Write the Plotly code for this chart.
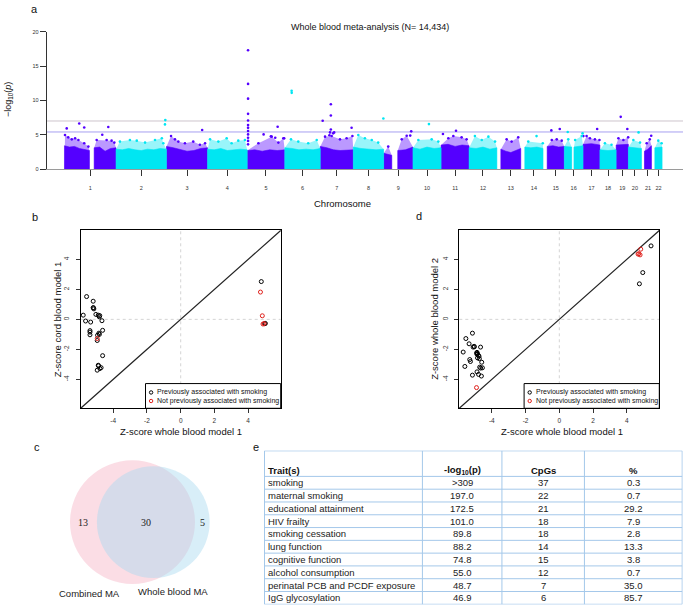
import math
import plotly.graph_objects as go

# ---------------- panel a : Manhattan plot ----------------
chrom_names = [str(i) for i in range(1, 23)]
chrom_len = [249.2, 243.2, 198.0, 191.2, 180.9, 171.1, 159.1, 146.4, 141.2, 135.5, 135.0,
             133.9, 115.2, 107.3, 102.5, 90.4, 81.2, 78.1, 59.1, 63.0, 48.1, 51.3]
# stretches of each chromosome that carry CpGs (Mb)
chrom_segments = [
    [(0.8, 121.0), (144.0, 249.0)], [(0.3, 243.0)], [(0.2, 197.8)], [(0.1, 191.0)],
    [(0.1, 180.7)], [(0.2, 170.9)], [(0.1, 159.0)], [(0.2, 146.2)],
    [(0.2, 39.0), (68.0, 141.0)], [(0.1, 135.4)], [(0.2, 134.9)], [(0.2, 133.8)],
    [(19.2, 115.0)], [(19.5, 107.2)], [(20.1, 102.4)], [(0.1, 35.5), (46.5, 90.2)],
    [(0.1, 81.1)], [(0.1, 78.0)], [(0.2, 59.0)], [(0.1, 62.9)], [(14.5, 48.0)], [(16.5, 51.2)],
]
# upper edge of the solid cloud of CpGs, read along each stretch (-log10 p)
band_top = [
    [[3.4, 3.2, 3.3, 3.0, 2.8, 2.7], [3.1, 3.2, 2.6, 3.0, 3.1]],
    [[2.9, 2.8, 3.0, 2.8, 2.7, 2.9, 2.8, 3.0, 2.9]],
    [[3.3, 3.1, 2.9, 2.6, 2.7, 3.0, 3.1]],
    [[2.9, 2.8, 3.0, 2.7, 2.8, 2.9, 2.8]],
    [[2.7, 2.8, 2.6, 2.8, 2.7, 2.8]],
    [[3.1, 3.0, 2.8, 2.9, 2.8, 3.0]],
    [[3.3, 3.1, 2.8, 2.7, 2.8, 2.8]],
    [[3.2, 3.0, 2.9, 2.8, 2.9]],
    [[2.3, 2.0], [2.7, 2.8, 3.2]],
    [[3.1, 2.9, 3.2, 3.0, 3.1]],
    [[3.5, 3.6, 3.3, 3.5, 3.4]],
    [[3.1, 3.0, 3.2, 2.9, 3.1]],
    [[2.9, 2.6, 2.4, 2.7, 3.0]],
    [[3.2, 3.1, 3.2, 3.0]],
    [[3.3, 3.4, 3.2, 3.3]],
    [[3.3, 3.2], [3.2, 3.4]],
    [[3.6, 3.7, 3.5]],
    [[2.8, 2.7, 2.8]],
    [[3.5, 3.6]],
    [[3.2, 3.1, 3.0]],
    [[2.6, 2.9, 3.4]],
    [[3.1, 3.2]],
]
# scattered CpGs just above the solid cloud: (Mb, -log10 p)
fringe = [
    [(3.4, 4.96), (19, 4.62), (36, 4.33), (52, 4.48), (68, 4.24), (96, 3.76), (116, 3.27),
     (156, 4.24), (204, 4.24), (228, 4.14), (241, 3.85)],
    [(19, 4.0), (67, 4.24), (100, 4.14), (140, 3.85), (188, 4.24), (221, 4.48), (228, 3.76)],
    [(22, 4.81), (41, 4.33), (57, 4.0), (89, 3.76), (129, 4.0), (161, 3.53), (186, 3.76)],
    [(12, 4.33), (52, 4.0), (92, 4.48), (116, 3.76), (148, 4.14), (180, 4.24)],
    [(54, 3.76), (118, 4.72), (150, 3.85), (174, 4.48)],
    [(30, 4.33), (65, 4.0), (113, 3.76), (154, 4.24)],
    [(23, 4.72), (55, 4.81), (95, 4.33), (127, 4.48), (155, 4.81)],
    [(24, 4.96), (56, 4.48), (89, 4.24), (120, 3.85)],
    [(22, 3.27), (87, 4.33), (111, 4.86)],
    [(26, 4.24), (90, 4.33), (122, 4.0)],
    [(35, 4.48), (59, 4.81), (99, 4.62), (123, 4.33)],
    [(28, 4.81), (61, 4.24), (93, 4.72), (125, 4.0)],
    [(47, 4.33), (71, 4.0), (103, 4.62)],
    [(36, 4.0), (106, 3.76)],
    [(42, 4.24), (66, 4.33), (90, 4.14)],
    [(19, 4.33), (52, 4.24), (84, 4.81)],
    [(17, 4.81), (33, 4.48), (57, 4.33), (79, 4.24)],
    [(24, 3.76), (56, 3.53)],
    [(11, 4.48), (35, 4.24), (58, 4.62)],
    [(24, 4.24), (56, 3.85)],
    [(25, 3.76), (40, 4.33)],
    [(33, 4.14), (49, 3.76)],
]
# the most significant CpGs: (chromosome, Mb, -log10 p)
top_cpgs = [
    (1, 11.6, 5.92), (1, 72, 6.64), (1, 96, 6.06), (1, 183, 5.0), (1, 212, 6.12),
    (2, 237.6, 7.13), (2, 236, 6.5), (3, 172, 5.68),
    (5, 4, 17.3), (5, 4, 12.4), (5, 4, 10.25), (5, 4, 8.04), (5, 4, 7.07), (5, 4, 6.4),
    (5, 4, 6.0), (5, 4, 5.54), (5, 4, 5.05), (5, 4, 4.57), (5, 4, 4.1), (5, 4, 3.6),
    (5, 146.5, 6.16), (5, 79, 5.05), (5, 114, 4.76), (5, 135, 4.57), (5, 178, 4.47),
    (6, 33, 11.4), (6, 33.5, 11.1),
    (7, 51, 9.43), (7, 51, 7.79), (7, 11.6, 7.03), (7, 51, 5.77), (7, 47, 5.34), (7, 62, 5.2),
    (7, 67, 5.34), (7, 151, 6.02), (7, 44, 4.93),
    (8, 145, 7.36), (9, 132.7, 5.49), (9, 128, 4.87), (10, 77, 6.55), (11, 72, 5.58),
    (11, 9, 5.1), (14, 76, 4.8), (15, 40, 5.63), (15, 80.5, 5.83), (16, 16.4, 5.4),
    (16, 88, 5.2), (17, 1.4, 4.8), (17, 68, 5.83), (19, 22.2, 7.6), (19, 54, 5.83),
    (20, 49, 5.34), (21, 47, 4.86),
]
threshold_grey = 7.0
threshold_blue = 5.4

# ---------------- panels b and d : Z-score comparisons ----------------
b_prev_x = [-5.78, -5.58, -5.64, -5.34, -5.38, -5.38, -5.38, -5.19, -5.19, -5.18, -5.15, -5.03,
            -4.89, -4.83, -4.80, -4.67, -4.63, -4.85, -4.82, -4.93, -4.95, -4.63, -4.89, -4.87,
            -4.95, -4.79, -4.72, 4.78, 4.98, 5.02]
b_prev_y = [0.28, 1.52, -0.11, -0.18, -0.75, -0.85, -1.03, 1.21, 0.77, 0.78, 0.70, 0.33,
            0.28, 0.17, 0.25, -0.09, -0.73, -0.92, -1.0, -1.06, -1.41, -2.42, -3.06, -3.1,
            -3.39, -3.28, -3.22, 2.52, -0.29, -0.27]
b_new_x = [-4.95, 4.73, 4.84, 4.88, 4.95]
b_new_y = [-1.28, 1.82, 0.24, -0.31, -0.28]

d_prev_x = [5.44, 4.95, 4.75, -5.15, -5.54, -5.70, -5.60, -5.35, -5.31, -5.27, -5.11, -5.04,
            -4.67, -4.88, -4.88, -4.85, -4.76, -4.72, -4.60, -4.56, -5.15, -4.88, -4.79, -4.62,
            -4.74, -4.86, -5.05, -4.80, -4.66, -4.90]
d_prev_y = [4.90, 3.12, 2.37, -0.92, -1.28, -2.18, -3.14, -1.63, -2.68, -2.81, -1.85, -1.83,
            -1.85, -2.20, -2.33, -2.57, -2.46, -3.19, -2.86, -3.23, -3.72, -3.50, -3.67, -3.78,
            -2.62, -2.28, -1.80, -2.40, -3.25, -2.25]
d_new_x = [-4.91, 4.67, 4.79, 4.83, 4.72]
d_new_y = [-4.55, 4.35, 4.30, 4.68, 4.38]

z_ticks = [-4, -2, 0, 2, 4]
z_tick_text = ["-4", "-2", "0", "2", "4"]
legend_labels = ["Previously associated with smoking", "Not previously associated with smoking"]

# ---------------- panel c : Venn ----------------
venn_only_combined = 13
venn_shared = 30
venn_only_whole = 5
venn_names = ["Combined MA", "Whole blood MA"]

# ---------------- panel e : table ----------------
table_header = ["Trait(s)", "-log<sub>10</sub>(p)", "CpGs", "%"]
traits = ["smoking", "maternal smoking", "educational attainment", "HIV frailty",
          "smoking cessation", "lung function", "cognitive function", "alcohol consumption",
          "perinatal PCB and PCDF exposure", "IgG glycosylation"]
log10p = [">309", "197.0", "172.5", "101.0", "89.8", "88.2", "74.8", "55.0", "48.7", "46.9"]
cpg_counts = ["37", "22", "21", "18", "18", "14", "15", "12", "7", "6"]
percents = ["0.3", "0.7", "29.2", "7.9", "2.8", "13.3", "3.8", "0.7", "35.0", "85.7"]

# ---------------- layout constants ----------------
W, H = 685, 612
FONT = "Liberation Sans, Arial, sans-serif"
PURPLE = "#5400ff"
CYAN = "#00e6f2"
RED = "#e0201b"
GRID_BLUE = "#a4c8ea"


def fx(p):
    return p / W


def fy(p):
    return 1 - p / H


A_L, A_R, A_T, A_B = 46.7, 683.0, 29.0, 167.7
MB_PX, GENOME_X0 = 0.2075, 64.3
B_L, B_R, Z_T, Z_B = 80.7, 280.7, 229.7, 409.3
D_L, D_R = 459.3, 659.3
Z_LIM = 5.93
LEG_X0, LEG_Y1 = 0.324, 0.139          # legend box in axis-domain fractions
LEG_ROWS = [0.089, 0.041]
LEG_SYM_X = 0.352

offsets = [sum(chrom_len[:i]) for i in range(len(chrom_len))]
centers = [offsets[i] + (chrom_segments[i][0][0] + chrom_segments[i][-1][1]) / 2
           for i in range(len(chrom_len))]

fig = go.Figure()

for parity, col, halo in [(0, PURPLE, "rgba(84,0,255,0.4)"), (1, CYAN, "rgba(0,230,242,0.4)")]:
    xs, ys = [], []
    hx, hy = [], []
    px_, py_ = [], []
    for ci in range(len(chrom_len)):
        if ci % 2 != parity:
            continue
        off = offsets[ci]
        for (s, e), tops in zip(chrom_segments[ci], band_top[ci]):
            n = len(tops)
            xs += [off + s] + [off + s + (e - s) * j / (n - 1) for j in range(n)] + [off + e, None]
            ys += [0] + tops + [0, None]
            pts = [(mb, v) for mb, v in fringe[ci] if s <= mb <= e]
            hx += [off + s, off + s] + [off + mb for mb, v in pts] + [off + e, off + e, None]
            hy += [0, tops[0]] + [v for mb, v in pts] + [tops[-1], 0, None]
        for mb, v in fringe[ci]:
            px_.append(off + mb)
            py_.append(v)
    for c, mb, v in top_cpgs:
        if (c - 1) % 2 == parity:
            px_.append(offsets[c - 1] + mb)
            py_.append(v)
    fig.add_trace(go.Scatter(x=hx, y=hy, mode="lines", fill="toself", fillcolor=halo,
                             line=dict(width=0), hoverinfo="skip",
                             showlegend=False, xaxis="x", yaxis="y"))
    fig.add_trace(go.Scatter(x=xs, y=ys, mode="lines", fill="toself", fillcolor=col,
                             line=dict(width=0.6, color=col), hoverinfo="skip",
                             showlegend=False, xaxis="x", yaxis="y"))
    fig.add_trace(go.Scatter(x=px_, y=py_, mode="markers",
                             marker=dict(size=2.6, color=col, line=dict(width=0)),
                             showlegend=False, xaxis="x", yaxis="y"))

for xs_, ys_, col, ax, ay in [(b_prev_x, b_prev_y, "black", "x2", "y2"),
                              (b_new_x, b_new_y, RED, "x2", "y2"),
                              (d_prev_x, d_prev_y, "black", "x3", "y3"),
                              (d_new_x, d_new_y, RED, "x3", "y3")]:
    fig.add_trace(go.Scatter(x=xs_, y=ys_, mode="markers", showlegend=False,
                             marker=dict(symbol="circle-open", size=4.0, color=col,
                                         line=dict(width=1, color=col)),
                             xaxis=ax, yaxis=ay, cliponaxis=False))

# legend symbols, placed from the legend-box layout fractions
sym_x = -Z_LIM + LEG_SYM_X * 2 * Z_LIM
for ax, ay in [("x2", "y2"), ("x3", "y3")]:
    for row_y, col in zip(LEG_ROWS, ["black", RED]):
        fig.add_trace(go.Scatter(x=[sym_x], y=[-Z_LIM + row_y * 2 * Z_LIM], mode="markers",
                                 marker=dict(symbol="circle-open", size=3.4, color=col,
                                             line=dict(width=1, color=col)),
                                 showlegend=False, hoverinfo="skip", xaxis=ax, yaxis=ay))

shapes = []
for v, col in [(threshold_grey, "#cdc4cc"), (threshold_blue, "#a79ff0")]:
    shapes.append(dict(type="line", xref="x domain", yref="y", x0=0, x1=1, y0=v, y1=v,
                       line=dict(color=col, width=1), layer="below"))

for ax in ["x2", "x3"]:
    ay = "y2" if ax == "x2" else "y3"
    shapes += [
        dict(type="line", xref=ax, yref=ay + " domain", x0=0, x1=0, y0=0, y1=1,
             line=dict(color="#d4d4d4", width=1, dash="dot"), layer="below"),
        dict(type="line", xref=ax + " domain", yref=ay, x0=0, x1=1, y0=0, y1=0,
             line=dict(color="#d4d4d4", width=1, dash="dot"), layer="below"),
        dict(type="line", xref=ax + " domain", yref=ay + " domain", x0=0, x1=1, y0=0, y1=1,
             line=dict(color="#222", width=1.2), layer="below"),
        dict(type="rect", xref=ax + " domain", yref=ay + " domain", x0=LEG_X0, x1=1, y0=0,
             y1=LEG_Y1, line=dict(color="black", width=1), fillcolor="white", layer="below"),
    ]

# Venn circles sized by set size, overlap area solved from the shared count
VENN_K = 62.5 / math.sqrt(43)
r1 = VENN_K * math.sqrt(venn_only_combined + venn_shared)
r2 = VENN_K * math.sqrt(venn_only_whole + venn_shared)
target = math.pi * VENN_K ** 2 * venn_shared


def lens_area(d, ra, rb):
    a1 = math.acos((d * d + ra * ra - rb * rb) / (2 * d * ra))
    a2 = math.acos((d * d + rb * rb - ra * ra) / (2 * d * rb))
    k = 0.5 * math.sqrt((-d + ra + rb) * (d + ra - rb) * (d - ra + rb) * (d + ra + rb))
    return ra * ra * a1 + rb * rb * a2 - k


lo, hi = abs(r1 - r2) + 1e-6, r1 + r2 - 1e-6
for _ in range(80):
    mid = (lo + hi) / 2
    if lens_area(mid, r1, r2) > target:
        lo = mid
    else:
        hi = mid
dist = (lo + hi) / 2
c1x, cy = 132.5, H - 524.2
c2x = c1x + dist
shapes.append(dict(type="circle", xref="x5", yref="y5", x0=c1x - r1, x1=c1x + r1,
                   y0=cy - r1, y1=cy + r1, fillcolor="rgba(247,188,204,0.5)",
                   line=dict(width=0)))
shapes.append(dict(type="circle", xref="x5", yref="y5", x0=c2x - r2, x1=c2x + r2,
                   y0=cy - r2, y1=cy + r2, fillcolor="rgba(168,218,240,0.45)",
                   line=dict(width=0)))

# table grid
col_edges = [0, 158.3, 238.0, 320.7, 418.7]
n_rows = len(traits)
for yv in [0] + list(range(2, n_rows + 3)):
    shapes.append(dict(type="line", xref="x4", yref="y4", x0=col_edges[0], x1=col_edges[-1],
                       y0=yv, y1=yv, line=dict(color=GRID_BLUE, width=1)))
for xv in col_edges:
    shapes.append(dict(type="line", xref="x4", yref="y4", x0=xv, x1=xv, y0=0, y1=n_rows + 2,
                       line=dict(color=GRID_BLUE, width=1)))

ann = []


def label(text, x, y, size, **kw):
    d = dict(text=text, x=fx(x), y=fy(y), xref="paper", yref="paper", showarrow=False,
             font=dict(family=FONT, size=size, color=kw.pop("color", "#111")),
             xanchor=kw.pop("xanchor", "center"), yanchor=kw.pop("yanchor", "middle"))
    d.update(kw)
    ann.append(d)


label("a", 34, 6, 11)
label("b", 35, 216, 11)
label("d", 418.5, 215, 11)
label("c", 37, 448, 11)
label("e", 256, 448, 11)
label("Whole blood meta-analysis (N= 14,434)", 370, 24, 9)
label("\u2212log<sub>10</sub>(<i>p</i>)", 8, 98, 9, textangle=-90)
label("Chromosome", 342, 202, 9.5)
label("Z-score whole blood model 1", 181, 433, 9.5)
label("Z-score cord blood model 1", 57, 319.5, 9.5, textangle=-90)
label("Z-score whole blood model 1", 562, 433, 9.5)
label("Z-score whole blood model 2", 434.5, 319.5, 9.5, textangle=-90)

for ax in ["x2", "x3"]:
    ay = "y2" if ax == "x2" else "y3"
    for txt, yd in zip(legend_labels, LEG_ROWS):
        ann.append(dict(text=txt, xref=ax + " domain", yref=ay + " domain", x=0.372, y=yd,
                        xanchor="left", yanchor="middle", showarrow=False,
                        font=dict(family=FONT, size=7, color="#111")))

for txt, xv in [(str(venn_only_combined), ((c1x - r1) + (c2x - r2)) / 2),
                (str(venn_shared), ((c2x - r2) + (c1x + r1)) / 2),
                (str(venn_only_whole), ((c1x + r1) + (c2x + r2)) / 2)]:
    ann.append(dict(text=txt, xref="x5", yref="y5", x=xv, y=cy, showarrow=False,
                    xanchor="center", yanchor="middle",
                    font=dict(family="Liberation Serif, Times New Roman, serif", size=10,
                              color="#222")))
ann.append(dict(text=venn_names[0], xref="x5", yref="y5", x=c1x - 43, y=H - 596, showarrow=False,
                font=dict(family=FONT, size=9.5, color="#222")))
ann.append(dict(text=venn_names[1], xref="x5", yref="y5", x=c2x + 20, y=H - 594, showarrow=False,
                font=dict(family=FONT, size=9.5, color="#222")))

col_mid = [(col_edges[i] + col_edges[i + 1]) / 2 for i in range(4)]
for i, h in enumerate(table_header):
    ann.append(dict(text="<b>%s</b>" % h, xref="x4", yref="y4",
                    x=col_edges[0] + 2 if i == 0 else col_mid[i], y=1.5,
                    xanchor="left" if i == 0 else "center", yanchor="middle", showarrow=False,
                    font=dict(family=FONT, size=9.5, color="#111")))
for r in range(n_rows):
    row = [traits[r], log10p[r], cpg_counts[r], percents[r]]
    for i, t in enumerate(row):
        ann.append(dict(text=t, xref="x4", yref="y4",
                        x=col_edges[0] + 2 if i == 0 else col_mid[i], y=2.5 + r,
                        xanchor="left" if i == 0 else "center", yanchor="middle",
                        showarrow=False, font=dict(family=FONT, size=9.5, color="#222")))

z_axis = dict(range=[-Z_LIM, Z_LIM], tickvals=z_ticks, ticktext=z_tick_text, ticks="outside",
              ticklen=4, tickcolor="#333", showline=True, mirror=True, linecolor="black",
              linewidth=1, showgrid=False, zeroline=False,
              tickfont=dict(family=FONT, size=6.5, color="#333"))

fig.update_layout(
    width=W, height=H, margin=dict(l=0, r=0, t=0, b=0), paper_bgcolor="white",
    plot_bgcolor="rgba(0,0,0,0)", showlegend=False,
    xaxis=dict(domain=[fx(A_L), fx(A_R)],
               range=[(A_L - GENOME_X0) / MB_PX, (A_R - GENOME_X0) / MB_PX],
               tickvals=centers, ticktext=chrom_names, ticks="outside", ticklen=6,
               tickcolor="#333", showline=True, linecolor="#9a9a9a", linewidth=1,
               showgrid=False, zeroline=False, ticklabelstandoff=7,
               tickfont=dict(family=FONT, size=5.5, color="#333"), anchor="y"),
    yaxis=dict(domain=[fy(A_B), fy(A_T)], range=[0, 20], tickvals=[0, 5, 10, 15, 20],
               ticks="outside", ticklen=6, tickcolor="#333", showline=True, linecolor="#333",
               linewidth=1, showgrid=False, zeroline=False,
               tickfont=dict(family=FONT, size=5.5, color="#333"), anchor="x"),
    xaxis2=dict(domain=[fx(B_L), fx(B_R)], anchor="y2", ticklabelstandoff=2, **z_axis),
    yaxis2=dict(domain=[fy(Z_B), fy(Z_T)], anchor="x2", tickangle=-90, ticklabelstandoff=4,
                **z_axis),
    xaxis3=dict(domain=[fx(D_L), fx(D_R)], anchor="y3", ticklabelstandoff=2, **z_axis),
    yaxis3=dict(domain=[fy(Z_B), fy(Z_T)], anchor="x3", tickangle=-90, ticklabelstandoff=4,
                **z_axis),
    xaxis4=dict(domain=[fx(264.0), fx(682.7)], range=[col_edges[0] - 0.5, col_edges[-1] + 0.5],
                visible=False, anchor="y4"),
    yaxis4=dict(domain=[fy(607.5), fy(452.0)], range=[n_rows + 2.02, -0.02], visible=False,
                anchor="x4"),
    xaxis5=dict(domain=[0, fx(250)], range=[0, 250], visible=False, anchor="y5"),
    yaxis5=dict(domain=[0, fy(H - 162)], range=[0, 162], visible=False, anchor="x5"),
    shapes=shapes,
    annotations=ann,
)

fig.write_html("out.html", config={"displayModeBar": False},
               post_script="document.body.style.margin='0px';")
